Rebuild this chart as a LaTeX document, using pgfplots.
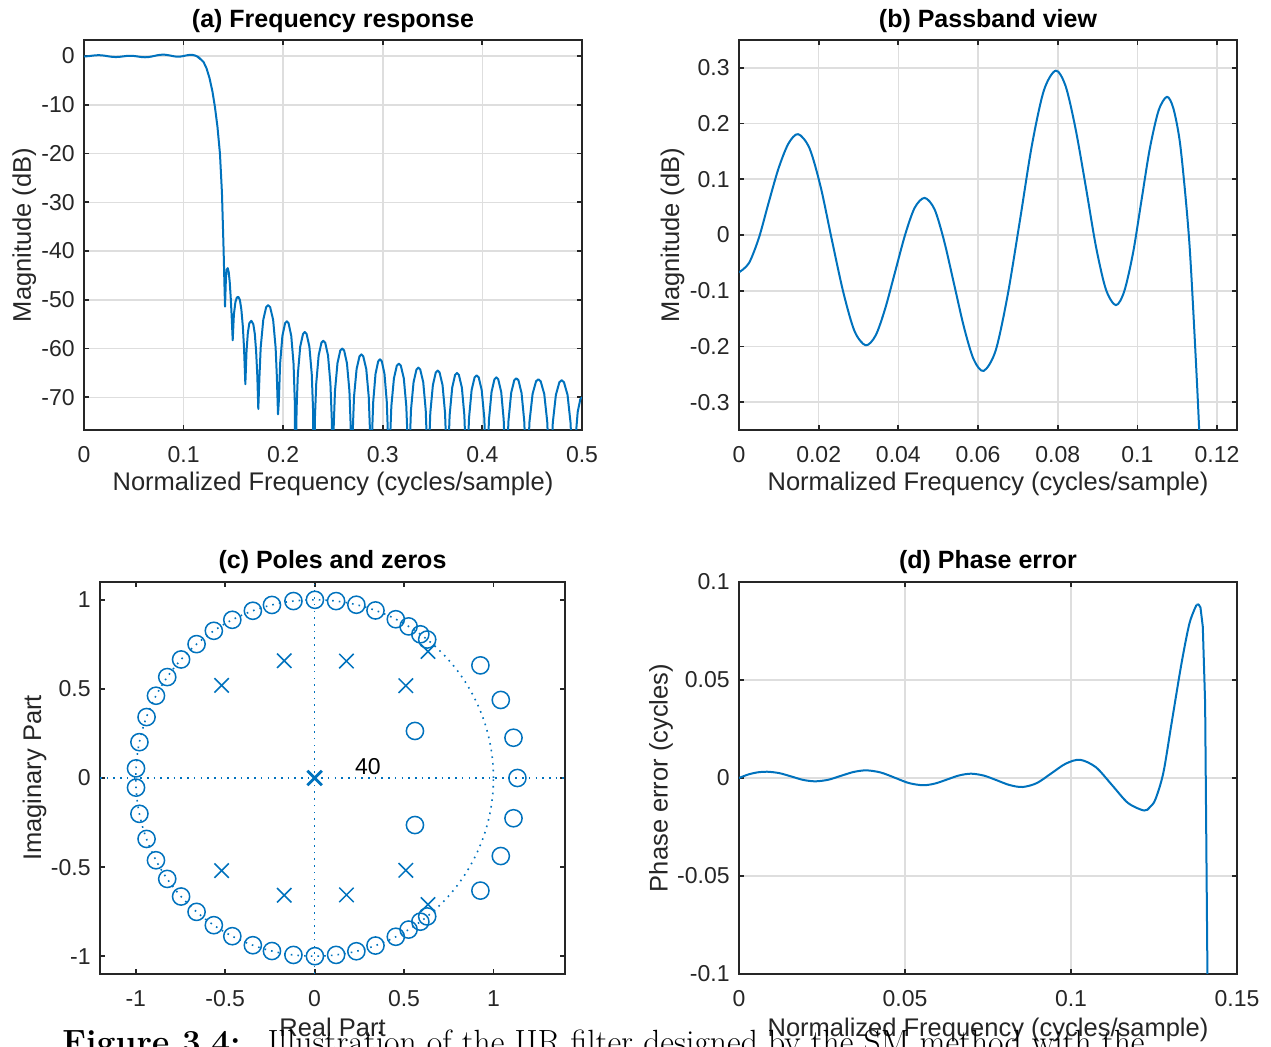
\documentclass[border=0pt]{standalone}
\usepackage{pgfplots}
\pgfplotsset{compat=1.18}
\usepackage{pgfplotstable}
\usepackage{fontspec}
\newfontfamily\arial{Liberation Sans}

\definecolor{mblue}{HTML}{0072BD}
\definecolor{axc}{HTML}{262626}
\definecolor{gridc}{HTML}{DEDEDE}

\newcommand\tickfont{\arial\fontsize{11.5}{13}\selectfont}
\newcommand\labfont{\arial\fontsize{12.75}{14}\selectfont}
\newcommand\titfont{\arial\bfseries\fontsize{12.5}{14}\selectfont}

\pgfplotsset{
  mstyle/.style={
    scale only axis,
    axis line style={draw=axc, line width=0.9pt},
    every tick/.style={draw=axc, line width=0.9pt},
    tick align=inside,
    major tick length=2.5pt,
    grid style={draw=gridc, line width=0.8pt},
    ticklabel style={font=\tickfont, text=axc, inner sep=0pt},
    xticklabel style={anchor=base, yshift=-16.5pt},
    yticklabel style={anchor=east, xshift=-4.5pt},
    scaled ticks=false,
  },
  curve/.style={mblue, line width=1pt, line join=round},
}

% passband of the magnitude response (dB)
\pgfplotstableread{
f db
0 -0.067
0.0025 -0.0504
0.0050 -0.005
0.0074 0.057
0.0099 0.119
0.0124 0.164
0.01485 0.181
0.0177 0.1556
0.0205 0.0863
0.0233 -0.0085
0.0262 -0.1033
0.0290 -0.1726
0.0318 -0.198
0.0343 -0.1803
0.0367 -0.1319
0.0392 -0.0657
0.0417 0.0005
0.0441 0.0489
0.0466 0.0666
0.0491 0.0458
0.0515 -0.011
0.0540 -0.0887
0.0565 -0.1664
0.0589 -0.2232
0.0614 -0.244
0.0644 -0.2079
0.0674 -0.1093
0.0705 0.0255
0.0735 0.1603
0.0765 0.2589
0.0795 0.295
0.0820 0.2668
0.0845 0.1898
0.0871 0.0845
0.0896 -0.0208
0.0921 -0.0978
0.0946 -0.126
0.0967 -0.101
0.0989 -0.0325
0.1010 0.061
0.1031 0.1545
0.1053 0.223
0.1074 0.248
0.1090 0.228
0.1106 0.170
0.1120 0.075
0.1131 -0.020
0.1141 -0.146
0.1155 -0.349
0.1168 -0.600
}\passband

% transition band and stopband (dB)
\pgfplotstableread{
f db
0.1141 -0.146
0.1155 -0.349
0.1170 -0.62
0.1200 -1.2
0.1230 -2.5
0.1260 -4.5
0.1290 -7.3
0.1315 -10.5
0.1340 -14.5
0.1365 -20.0
0.1385 -28.0
0.1395 -35.0
0.1402 -40.0
0.1409 -46.0
0.1416 -51.4
0.1425 -45.5
0.1433 -43.8
0.1443 -43.5
0.1453 -44.3
0.1463 -46.3
0.1473 -49.5
0.1483 -53.5
0.1493 -58.3
0.1505 -53.0
0.1520 -50.5
0.1535 -49.5
0.1550 -49.4
0.1565 -50.0
0.1580 -52.0
0.1595 -55.5
0.1607 -60.0
0.1620 -67.3
0.1632 -60.5
0.1645 -56.8
0.1660 -54.8
0.1680 -54.3
0.1700 -55.0
0.1715 -57.0
0.1728 -60.5
0.1740 -65.5
0.1750 -72.4
0.1762 -65.6
0.1774 -59.8
0.1800 -54.1
0.1829 -51.5
0.1849 -51.1
0.1869 -51.5
0.1899 -54.1
0.1924 -59.8
0.1936 -65.6
0.1948 -73.5
0.1957 -70.5
0.1969 -63.1
0.1992 -57.4
0.2019 -54.8
0.20365 -54.4
0.2054 -54.8
0.2081 -57.4
0.2104 -63.1
0.2116 -70.5
0.2125 -95
0.2134 -72.7
0.2147 -65.3
0.2171 -59.6
0.2199 -57.0
0.2217 -56.6
0.2235 -57.0
0.2263 -59.6
0.2287 -65.3
0.2300 -72.7
0.2309 -95
0.2318 -74.5
0.2332 -67.1
0.2356 -61.4
0.2384 -58.8
0.2403 -58.4
0.2422 -58.8
0.2450 -61.4
0.2474 -67.1
0.2488 -74.5
0.2497 -95
0.2507 -76.1
0.2520 -68.7
0.2545 -63.0
0.2573 -60.4
0.2593 -60.0
0.2612 -60.4
0.2640 -63.0
0.2665 -68.7
0.2678 -76.1
0.2688 -95
0.2698 -77.3
0.2711 -69.9
0.2737 -64.2
0.2766 -61.6
0.2785 -61.2
0.2804 -61.6
0.2834 -64.2
0.2859 -69.9
0.2872 -77.3
0.2882 -95
0.2891 -78.3
0.2904 -70.9
0.2927 -65.2
0.2954 -62.6
0.2972 -62.2
0.2990 -62.6
0.3017 -65.2
0.3040 -70.9
0.3053 -78.3
0.3062 -95
0.3072 -79.2
0.3086 -71.8
0.3112 -66.1
0.3141 -63.5
0.3161 -63.1
0.3181 -63.5
0.3211 -66.1
0.3236 -71.8
0.3250 -79.2
0.3260 -95
0.3270 -80.0
0.3283 -72.6
0.3309 -66.9
0.3338 -64.3
0.3357 -63.9
0.3376 -64.3
0.3406 -66.9
0.3431 -72.6
0.3444 -80.0
0.3454 -95
0.3464 -80.6
0.3477 -73.2
0.3503 -67.5
0.3532 -64.9
0.3551 -64.5
0.3570 -64.9
0.3600 -67.5
0.3625 -73.2
0.3638 -80.6
0.3648 -95
0.3658 -81.1
0.3671 -73.7
0.3697 -68.0
0.3726 -65.4
0.3745 -65.0
0.3764 -65.4
0.3794 -68.0
0.3819 -73.7
0.3832 -81.1
0.3842 -95
0.3852 -81.6
0.3866 -74.2
0.3892 -68.5
0.3922 -65.9
0.39425 -65.5
0.3963 -65.9
0.3993 -68.5
0.4019 -74.2
0.4033 -81.6
0.4043 -95
0.4053 -82.0
0.4066 -74.6
0.4092 -68.9
0.4121 -66.3
0.4140 -65.9
0.4159 -66.3
0.4189 -68.9
0.4214 -74.6
0.4227 -82.0
0.4237 -95
0.4247 -82.2
0.4262 -74.8
0.4289 -69.1
0.4320 -66.5
0.4341 -66.1
0.4362 -66.5
0.4393 -69.1
0.4420 -74.8
0.4435 -82.2
0.4445 -95
0.4457 -82.4
0.4473 -75.0
0.4504 -69.3
0.4539 -66.7
0.4562 -66.3
0.4585 -66.7
0.4621 -69.3
0.4651 -75.0
0.4667 -82.4
0.4679 -95
0.4691 -82.6
0.4707 -75.2
0.4738 -69.5
0.4773 -66.9
0.4796 -66.5
0.4819 -66.9
0.4855 -69.5
0.4885 -75.2
0.4901 -82.6
0.4913 -95
0.4922 -86.1
0.4934 -78.7
0.4957 -73.0
0.4983 -70.4
0.5000 -70.0
}\stopband

% phase error (cycles)
\pgfplotstableread{
f pe
0 0
0.0028 0.0018
0.0057 0.0029
0.0085 0.0032
0.0121 0.0025
0.0158 0.00075
0.0194 -0.0010
0.0230 -0.0017
0.0269 -0.0009
0.0307 0.0011
0.0346 0.0031
0.0384 0.0039
0.0427 0.0028
0.0470 0.0001
0.0512 -0.0026
0.0555 -0.0037
0.0591 -0.0028
0.0627 -0.00075
0.0663 0.0013
0.0699 0.0022
0.0738 0.0012
0.0777 -0.0012
0.0815 -0.0036
0.0854 -0.0046
0.0897 -0.0026
0.0941 0.0024
0.0984 0.0073
0.1027 0.0093
0.1075 0.0055
0.1124 -0.0037
0.1172 -0.0128
0.1220 -0.0166
0.1237 -0.0150
0.1254 -0.0110
0.1278 0.0025
0.1303 0.0280
0.1333 0.0586
0.1357 0.0790
0.1378 0.0883
}\phaseA

\pgfplotstableread{
f pe
0.1378 0.0883
0.1384 0.0886
0.1390 0.0870
0.1397 0.0772
0.1404 0.0382
0.1412 -0.1200
}\phaseB

% zeros
\pgfplotstableread{
re im
0.6295 0.7770
0.5913 0.8064
0.5255 0.8508
0.4540 0.8910
0.3404 0.9403
0.2334 0.9724
0.1201 0.9928
0.0017 1.0000
-0.1184 0.9930
-0.2385 0.9711
-0.3453 0.9385
-0.4602 0.8878
-0.5635 0.8261
-0.6600 0.7513
-0.7466 0.6652
-0.8241 0.5664
-0.8870 0.4617
-0.9397 0.3420
-0.9796 0.2011
-0.9985 0.0541
0.6295 -0.7770
0.5913 -0.8064
0.5255 -0.8508
0.4540 -0.8910
0.3404 -0.9403
0.2334 -0.9724
0.1201 -0.9928
0.0017 -1.0000
-0.1184 -0.9930
-0.2385 -0.9711
-0.3453 -0.9385
-0.4602 -0.8878
-0.5635 -0.8261
-0.6600 -0.7513
-0.7466 -0.6652
-0.8241 -0.5664
-0.8870 -0.4617
-0.9397 -0.3420
-0.9796 -0.2011
-0.9985 -0.0541
1.134 0
1.112 0.226
1.041 0.438
0.927 0.632
0.561 0.264
1.112 -0.226
1.041 -0.438
0.927 -0.632
0.561 -0.264
}\zeros

% poles (besides the 40 at the origin)
\pgfplotstableread{
re im
-0.170 0.658
0.178 0.656
-0.520 0.520
0.510 0.518
0.634 0.710
-0.170 -0.658
0.178 -0.656
-0.520 -0.520
0.510 -0.518
0.634 -0.710
}\poles

\begin{document}
\begin{tikzpicture}
\useasboundingbox (0,0) rectangle (635.5pt,-523.5pt);

% (a) Frequency response
\begin{axis}[mstyle, at={(42pt,-20pt)}, anchor=north west,
  width=249pt, height=195pt,
  xmin=0, xmax=0.5, ymin=-76.7, ymax=3.3,
  xtick={0,0.1,0.2,0.3,0.4,0.5}, xticklabels={0,0.1,0.2,0.3,0.4,0.5},
  ytick={-70,-60,-50,-40,-30,-20,-10,0},
  yticklabels={-70,-60,-50,-40,-30,-20,-10,0},
  grid=major]
\addplot[curve, smooth] table[x=f, y=db] {\passband};
\addplot[curve] table[x=f, y=db] {\stopband};
\end{axis}

% (b) Passband view
\begin{axis}[mstyle, at={(369.5pt,-20pt)}, anchor=north west,
  width=249pt, height=195pt,
  xmin=0, xmax=0.125, ymin=-0.35, ymax=0.35,
  xtick={0,0.02,0.04,0.06,0.08,0.1,0.12},
  xticklabels={0,0.02,0.04,0.06,0.08,0.1,0.12},
  ytick={-0.3,-0.2,-0.1,0,0.1,0.2,0.3},
  yticklabels={-0.3,-0.2,-0.1,0,0.1,0.2,0.3},
  grid=major]
\addplot[curve, smooth] table[x=f, y=db] {\passband};
\end{axis}

% (c) Poles and zeros
\begin{axis}[mstyle, at={(50pt,-291pt)}, anchor=north west,
  width=232.5pt, height=196pt,
  xmin=-1.2, xmax=1.4, ymin=-1.1, ymax=1.1,
  xtick={-1,-0.5,0,0.5,1}, xticklabels={-1,-0.5,0,0.5,1},
  ytick={-1,-0.5,0,0.5,1}, yticklabels={-1,-0.5,0,0.5,1}]
\addplot[mblue, line width=0.8pt, dash pattern=on 0.8pt off 2.55pt] coordinates {(-1.2,0) (1.4,0)};
\addplot[mblue, line width=0.8pt, dash pattern=on 0.8pt off 2.55pt] coordinates {(0,-1.1) (0,1.1)};
\draw[mblue, line width=0.8pt, dash pattern=on 0.8pt off 2.55pt] (axis cs:0,0) ellipse [x radius=1, y radius=1];
\addplot[only marks, mark=o, mark size=4.3pt, mblue, mark options={line width=0.75pt}] table[x=re, y=im] {\zeros};
\addplot[only marks, mark=x, mark size=5.1pt, mblue, mark options={line width=0.75pt}] table[x=re, y=im] {\poles};
\addplot[only marks, mark=x, mark size=5.1pt, mblue, mark options={line width=1.4pt}] coordinates {(0,0)};
\node[anchor=base west, inner sep=0pt, font=\tickfont, text=black] at (axis cs:0.224,0.022) {40};
\end{axis}

% (d) Phase error
\begin{axis}[mstyle, at={(369.5pt,-291pt)}, anchor=north west,
  width=249pt, height=196pt,
  xmin=0, xmax=0.15, ymin=-0.1, ymax=0.1,
  xtick={0,0.05,0.1,0.15}, xticklabels={0,0.05,0.1,0.15},
  ytick={-0.1,-0.05,0,0.05,0.1}, yticklabels={-0.1,-0.05,0,0.05,0.1},
  grid=major]
\addplot[curve, smooth] table[x=f, y=pe] {\phaseA};
\addplot[curve] table[x=f, y=pe] {\phaseB};
\end{axis}

% titles
\node[anchor=base, font=\titfont] at (166.5pt,-14pt) {(a) Frequency response};
\node[anchor=base, font=\titfont] at (494pt,-14pt) {(b) Passband view};
\node[anchor=base, font=\titfont] at (166.25pt,-284.5pt) {(c) Poles and zeros};
\node[anchor=base, font=\titfont] at (494pt,-284.5pt) {(d) Phase error};

% axis labels
\node[anchor=base, font=\labfont, text=axc] at (166.5pt,-245.5pt) {Normalized Frequency (cycles/sample)};
\node[anchor=base, font=\labfont, text=axc] at (494pt,-245.5pt) {Normalized Frequency (cycles/sample)};
\node[anchor=base, font=\labfont, text=axc] at (166.25pt,-518.5pt) {Real Part};
\node[anchor=base, font=\labfont, text=axc] at (494pt,-518.5pt) {Normalized Frequency (cycles/sample)};
\node[anchor=base, rotate=90, font=\labfont, text=axc] at (15.5pt,-117.5pt) {Magnitude (dB)};
\node[anchor=base, rotate=90, font=\labfont, text=axc] at (339.5pt,-117.5pt) {Magnitude (dB)};
\node[anchor=base, rotate=90, font=\labfont, text=axc] at (20.5pt,-389pt) {Imaginary Part};
\node[anchor=base, rotate=90, font=\labfont, text=axc] at (333.75pt,-389pt) {Phase error (cycles)};

% caption, cut by the lower edge of the picture
\node[anchor=base west, inner sep=0pt, font=\fontsize{16.8}{19}\selectfont] at (31pt,-527pt)
  {\textbf{Figure 3.4:}\hspace{0.8em}Illustration of the IIR filter designed by the SM method with the};
\end{tikzpicture}
\end{document}
